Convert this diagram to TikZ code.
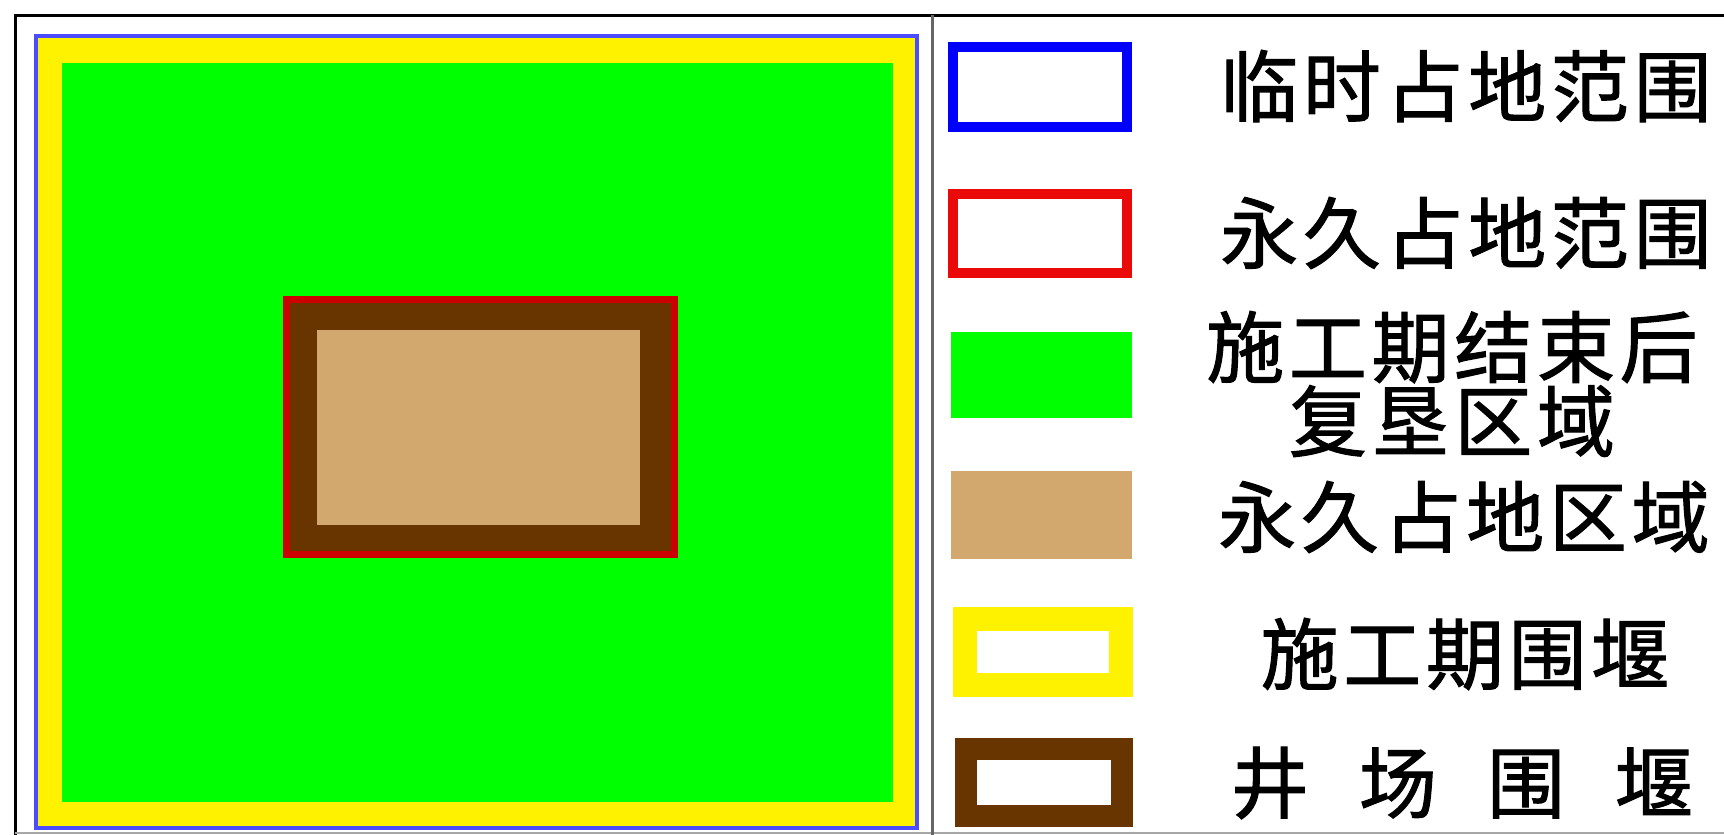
\documentclass[tikz,border=0pt]{standalone}
\usepackage{fontspec}
\usepackage[dvipsnames]{xcolor}
\newfontfamily\cjk[LetterSpace=6, FakeBold=1.3]{Noto Sans CJK SC}
\definecolor{WellBrown}{RGB}{104,52,0}
\definecolor{LandTan}{RGB}{210,168,110}
\definecolor{ReclaimGreen}{RGB}{0,255,0}
\definecolor{PermRed}{RGB}{235,10,10}
\tikzset{
    legendtext/.style={font=\cjk\fontsize{39}{28.5}\selectfont, inner sep=0pt, align=center},
}

\begin{document}
\begin{tikzpicture}[x=0.5pt, y=-0.5pt]
    \useasboundingbox (0,0) rectangle (1724,835);
    %Frame
    \draw [line width=1.5pt] (15,835) -- (15,15) -- (1724,15);
    \draw [black!35, line width=1pt] (15,833) -- (1724,833);
    \draw [black!60, line width=1.5pt] (932,15) -- (932,835);

    %Site
    \fill [yellow] (38,38) rectangle (915,826);
    \fill [ReclaimGreen] (62,63) rectangle (893,802);
    \draw [blue!70, line width=2pt] (36,36) rectangle (917,828);
    \fill [WellBrown] (286,299) rectangle (674,554);
    \fill [LandTan] (317,330) rectangle (640,525);
    \draw [red!80!black, line width=3.5pt] (286,299) rectangle (674,554);

    %Legend
    \draw [blue, line width=5pt] (953,47) rectangle (1127,127);
    \draw [PermRed, line width=5pt] (953,194) rectangle (1127,273);
    \fill [ReclaimGreen] (951,332) rectangle (1132,418);
    \fill [LandTan] (951,471) rectangle (1132,559);
    \draw [yellow, line width=12pt] (965,619) rectangle (1121,685);
    \draw [WellBrown, line width=11pt] (966,749) rectangle (1122,816);

    \node [legendtext] (templand) at (1466,86) {临时占地范围};
    \node [legendtext] (permland) at (1466,233) {永久占地范围};
    \node [legendtext] (reclaim) at (1452,384) {施工期结束后\\复垦区域};
    \node [legendtext] (permarea) at (1464,517) {永久占地区域};
    \node [legendtext] (cofferdam) at (1465,654) {施工期围堰};
    \node [legendtext] (welldam) at (1462,783) {井\hspace{25pt}场\hspace{25pt}围\hspace{25pt}堰};
\end{tikzpicture}
\end{document}
